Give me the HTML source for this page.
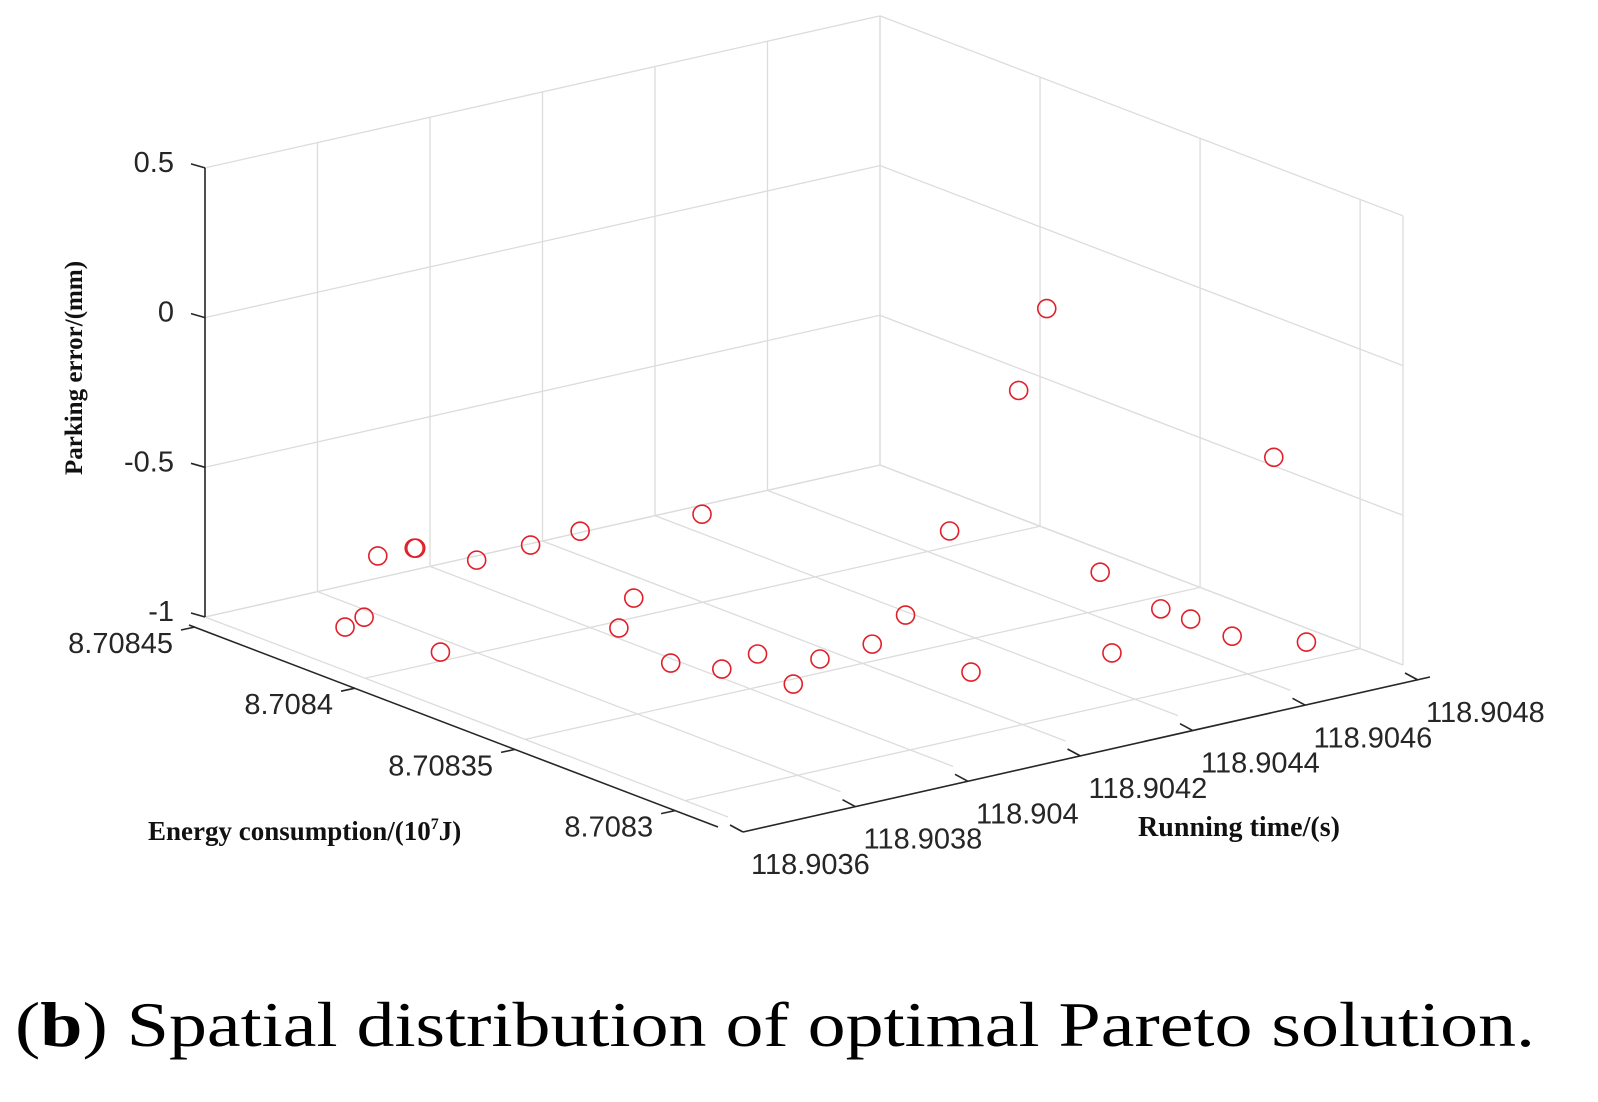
<!DOCTYPE html>
<html><head><meta charset="utf-8"><style>
html,body{margin:0;padding:0;background:#fff;}
svg{display:block;}
</style></head><body>
<svg id="chart" width="1598" height="1102" viewBox="0 0 1598 1102" xmlns="http://www.w3.org/2000/svg">
<g id="grid"></g>
<g id="axes"></g>
<g id="marks"></g>
<text x="0" y="0" transform="translate(82,368) rotate(-90)" text-anchor="middle" font-family="Liberation Serif, serif" font-weight="bold" font-size="25" fill="#111">Parking error/(mm)</text>
<text x="148" y="840" font-family="Liberation Serif, serif" font-weight="bold" font-size="27" fill="#111">Energy consumption/(10<tspan font-size="16" dy="-11">7</tspan><tspan dy="11">J)</tspan></text>
<text x="1138" y="836" font-family="Liberation Serif, serif" font-weight="bold" font-size="28" fill="#111" textLength="202">Running time/(s)</text>
<text x="15" y="1046" font-family="Liberation Serif, serif" font-size="64" fill="#000" textLength="1520" lengthAdjust="spacingAndGlyphs">(<tspan font-weight="bold">b</tspan>) Spatial distribution of optimal Pareto solution.</text>
</svg>
<script>
// data
const energyVals = [8.7084286, 8.7084315, 8.7084047, 8.7084306, 8.7084304, 8.7084302, 8.7084170, 8.7084185, 8.7084199, 8.7084145, 8.7084101, 8.7083964, 8.7083724, 8.7083634, 8.7083670, 8.7083474, 8.7083572, 8.7083588, 8.7083699, 8.7083330, 8.7084080, 8.7083694, 8.7083265, 8.7083435, 8.7083348, 8.7083212, 8.7083096, 8.7083572, 8.7083645, 8.7083160];
const timeVals = [118.9037272, 118.9037776, 118.9037608, 118.9037968, 118.9038604, 118.9038620, 118.9038952, 118.9039996, 118.9040956, 118.9042816, 118.9041352, 118.9040308, 118.9039864, 118.9040260, 118.9041100, 118.9040620, 118.9041652, 118.9042672, 118.9043896, 118.9042960, 118.9046848, 118.9047328, 118.9045096, 118.9046932, 118.9046968, 118.9046932, 118.9047592, 118.9045684, 118.9045600, 118.9047376];
const errorVals = [-1, -1, -1, -0.8, -0.8, -0.8, -0.8, -0.8, -0.8, -0.8, -1, -1, -1, -1, -1, -1, -1, -1, -1, -1, -1, -1, -1, -1, -1, -1, -1, 0, -0.3, -0.4];
const energyTicks = [8.7083, 8.70835, 8.7084, 8.70845];
const energyTickLabels = ["8.7083", "8.70835", "8.7084", "8.70845"];
const timeTicks = [118.9036, 118.9038, 118.904, 118.9042, 118.9044, 118.9046, 118.9048];
const timeTickLabels = ["118.9036", "118.9038", "118.904", "118.9042", "118.9044", "118.9046", "118.9048"];
const zTicks = [-1, -0.5, 0, 0.5];
const zTickLabels = ["-1", "-0.5", "0", "0.5"];

const NS = "http://www.w3.org/2000/svg";
const E_MAX = 8.70845, E_MIN = 8.7082866, T_MIN = 118.9036, T_MAX = 118.9048, Z_MIN = -1, Z_MAX = 0.5;
const O = [205, 617], EA = [523, 200], EB = [675, -152], ZP = 299.4;
function proj(e, t, z) {
  const a = (E_MAX - e) / (E_MAX - E_MIN);
  const b = (t - T_MIN) / (T_MAX - T_MIN);
  return [O[0] + a * EA[0] + b * EB[0], O[1] + a * EA[1] + b * EB[1] - (z - Z_MIN) * ZP];
}
function line(g, p, q, color, w) {
  const l = document.createElementNS(NS, "line");
  
  
  l.setAttribute("x1", p[0]); l.setAttribute("y1", p[1]);
  l.setAttribute("x2", q[0]); l.setAttribute("y2", q[1]);
  l.setAttribute("stroke", color); l.setAttribute("stroke-width", w);
  g.appendChild(l);
  return l;
}
function label(g, x, y, s, anchor) {
  const t = document.createElementNS(NS, "text");
  
  
  t.setAttribute("x", x); t.setAttribute("y", y);
  t.setAttribute("text-anchor", anchor);
  t.setAttribute("font-family", "Liberation Sans, sans-serif");
  t.setAttribute("font-size", "29");
  t.setAttribute("fill", "#262626");
  t.textContent = s;
  g.appendChild(t);
}
const grid = document.getElementById("grid");
const axes = document.getElementById("axes");
const marks = document.getElementById("marks");
const GC = "#dcdcdc";
timeTicks.forEach(t => line(grid, proj(E_MAX, t, Z_MIN), proj(E_MIN, t, Z_MIN), GC, 1.3));
energyTicks.forEach(e => line(grid, proj(e, T_MIN, Z_MIN), proj(e, T_MAX, Z_MIN), GC, 1.3));
timeTicks.forEach(t => line(grid, proj(E_MAX, t, Z_MIN), proj(E_MAX, t, Z_MAX), GC, 1.3));
zTicks.forEach(z => line(grid, proj(E_MAX, T_MIN, z), proj(E_MAX, T_MAX, z), GC, 1.3));
energyTicks.forEach(e => line(grid, proj(e, T_MAX, Z_MIN), proj(e, T_MAX, Z_MAX), GC, 1.3));
zTicks.forEach(z => line(grid, proj(E_MAX, T_MAX, z), proj(E_MIN, T_MAX, z), GC, 1.3));
line(grid, proj(E_MIN, T_MAX, Z_MIN), proj(E_MIN, T_MAX, Z_MAX), GC, 1.3);

const AC = "#262626";
line(axes, proj(E_MAX, T_MIN, Z_MIN), proj(E_MAX, T_MIN, Z_MAX), AC, 1.6);
zTicks.forEach((z, i) => {
  const p = proj(E_MAX, T_MIN, z);
  line(axes, p, [p[0] - 14, p[1] - 4], AC, 1.6);
  label(axes, p[0] - 31, p[1] + 4, zTickLabels[i], "end");
});
const eoff = [-10, 10];
{
  const p = proj(E_MAX, T_MIN, Z_MIN), q = proj(E_MIN, T_MIN, Z_MIN);
  line(axes, [p[0] + eoff[0] - 6, p[1] + eoff[1] - 2], [q[0] + eoff[0], q[1] + eoff[1]], AC, 1.6);
}
energyTicks.forEach((e, i) => {
  const p = proj(e, T_MIN, Z_MIN);
  const a = [p[0] + eoff[0], p[1] + eoff[1]];
  line(axes, a, [a[0] - 14, a[1] + 3], AC, 1.6);
  label(axes, a[0] - 22, a[1] + 26, energyTickLabels[i], "end");
});
const toff = [15, 15];
{
  const p = proj(E_MIN, T_MIN, Z_MIN), q = proj(E_MIN, T_MAX, Z_MIN);
  line(axes, [p[0] + toff[0], p[1] + toff[1]], [q[0] + toff[0] + 12, q[1] + toff[1] - 3], AC, 1.6);
}
timeTicks.forEach((t, i) => {
  const p = proj(E_MIN, t, Z_MIN);
  const a = [p[0] + toff[0], p[1] + toff[1]];
  line(axes, a, [a[0] - 13, a[1] - 7], AC, 1.6);
  label(axes, a[0] + 8, a[1] + 42, timeTickLabels[i], "start");
});

for (let i = 0; i < energyVals.length; i++) {
  const p = proj(energyVals[i], timeVals[i], errorVals[i]);
  const c = document.createElementNS(NS, "circle");
  
  
  c.setAttribute("cx", p[0]); c.setAttribute("cy", p[1]); c.setAttribute("r", 9);
  c.setAttribute("fill", "none"); c.setAttribute("stroke", "#e0202a"); c.setAttribute("stroke-width", 1.6);
  marks.appendChild(c);
}
</script>
</body></html>
